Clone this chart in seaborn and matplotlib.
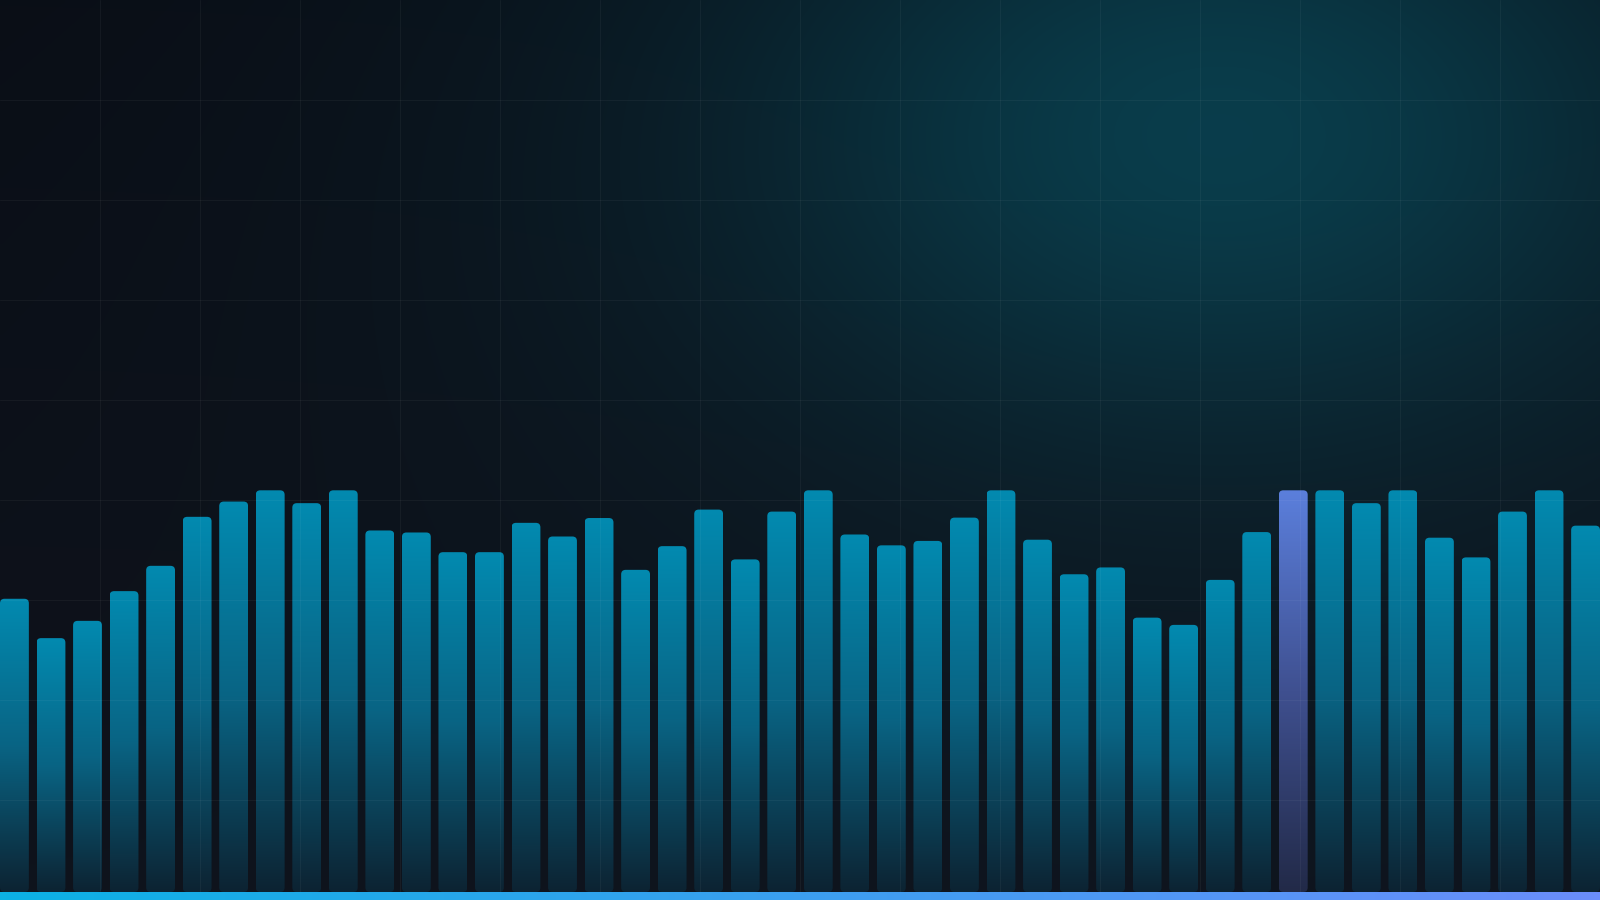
import numpy as np
import matplotlib
matplotlib.use("Agg")
import matplotlib.pyplot as plt
import seaborn as sns
from matplotlib.colors import LinearSegmentedColormap
from matplotlib.patches import FancyBboxPatch

# bar levels (100 = tallest bars)
levels = [73.0, 63.2, 67.5, 74.9, 81.2, 93.4, 97.2, 100, 96.8, 100,
          90.0, 89.5, 84.6, 84.6, 91.9, 88.5, 93.1, 80.2, 86.1, 95.2,
          82.8, 94.7, 100, 89.0, 86.3, 87.4, 93.2, 100, 87.7, 79.1,
          80.8, 68.3, 66.5, 77.7, 89.6, 100, 100, 96.8, 100, 88.2,
          83.3, 94.7, 100, 91.2]
slots = [f"s{i:02d}" for i in range(len(levels))]
highlight = 35  # the one blue/violet bar

W, H = 1600, 900
strip_px = 8        # bright line at the bottom
ymax = 222.06       # axis top in level units (100 -> ~402 px)

sns.set_theme(style="dark")
plt.rcParams['font.family'] = ['DejaVu Sans']

fig = plt.figure(figsize=(16, 9), dpi=100)
fig.patch.set_facecolor("#0b0f18")

# background: dark navy with a teal glow up right
bg = fig.add_axes([0, 0, 1, 1])
bg.set_axis_off()
yy, xx = np.mgrid[0:H:4, 0:W:4] + 2.0
t = (yy / H)[..., None]
base = (1 - t) * np.array([10, 13, 21]) + t * np.array([15, 19, 28])
d1 = ((xx - 1220) / 320) ** 2 + ((yy - 130) / 210) ** 2
d2 = ((xx - 1220) / 560) ** 2 + ((yy - 130) / 380) ** 2
glow = 0.19 * np.exp(-0.5 * d1) + 0.09 * np.exp(-0.5 * d2)
glow = glow[..., None]
img = base * (1 - glow) + np.array([6, 182, 212]) * glow
bg.imshow(img / 255, extent=[0, W, H, 0], aspect='auto', interpolation='bilinear')
bg.set_xlim(0, W)
bg.set_ylim(H, 0)

# bars
ax = fig.add_axes([0, strip_px / H, 1, (H - strip_px) / H])
ax.patch.set_alpha(0)
sns.barplot(x=slots, y=levels, ax=ax, width=0.79, color="#0288b0", saturation=1)

xmin, xmax = -0.395, len(levels) - 1 + 0.395
px_x = W / (xmax - xmin)
px_y = (H - strip_px) / ymax
r_px = 4.5

bar_cmap = LinearSegmentedColormap.from_list(
    "bar", [(0.0, (13/255, 35/255, 50/255)), (0.5, (9/255, 100/255, 132/255)),
            (1.0, (2/255, 138/255, 176/255))])
hi_cmap = LinearSegmentedColormap.from_list(
    "hi", [(0.0, (34/255, 42/255, 72/255)), (0.5, (63/255, 80/255, 144/255)),
           (1.0, (91/255, 127/255, 220/255))])
ramp = np.linspace(0, 1, 256).reshape(-1, 1)

for i, bar in enumerate(list(ax.patches)):
    x0, y0 = bar.get_x(), bar.get_y()
    w, h = bar.get_width(), bar.get_height()
    bar.set_visible(False)
    shape = FancyBboxPatch((x0, y0), w, h,
                           boxstyle=f"round,pad=0,rounding_size={r_px / px_x}",
                           mutation_aspect=px_x / px_y,
                           facecolor='none', edgecolor='none')
    ax.add_patch(shape)
    cmap = hi_cmap if i == highlight else bar_cmap
    im = ax.imshow(ramp, extent=[x0, x0 + w, y0, y0 + h], origin='lower',
                   aspect='auto', cmap=cmap, vmin=0, vmax=1,
                   interpolation='bilinear', zorder=2)
    im.set_clip_path(shape)

ax.set_xlim(xmin, xmax)
ax.set_ylim(0, ymax)
ax.set_axis_off()

# faint grid on top of everything
ov = fig.add_axes([0, 0, 1, 1])
ov.set_axis_off()
ov.patch.set_alpha(0)
for x in range(100, W, 100):
    ov.axvline(x, color='white', alpha=0.042, lw=0.75)
for y in range(100, H, 100):
    ov.axhline(y, color='white', alpha=0.042, lw=0.75)
ov.set_xlim(0, W)
ov.set_ylim(H, 0)

# bottom accent line
st = fig.add_axes([0, 0, 1, strip_px / H])
st.set_axis_off()
line_cmap = LinearSegmentedColormap.from_list("line", ["#0cb1e4", "#6b8dfb"])
st.imshow(np.linspace(0, 1, 512).reshape(1, -1), extent=[0, 1, 0, 1], aspect='auto', cmap=line_cmap)

fig.savefig("out.png", dpi=100)
